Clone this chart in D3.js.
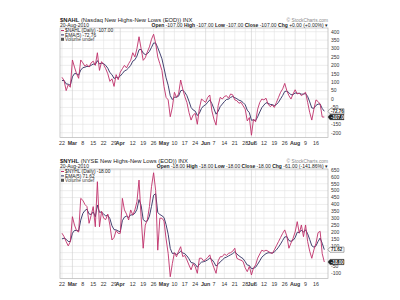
<!DOCTYPE html>
<html><head><meta charset="utf-8">
<script src="https://cdn.jsdelivr.net/npm/d3@7/dist/d3.min.js"></script>
<style>body{margin:0;background:#fff;} svg text{font-family:"Liberation Sans",Arial,sans-serif;}</style>
</head><body><svg id="c" width="400" height="300"></svg>
<script>
const dates = [
"2010-02-22","2010-02-23","2010-02-24","2010-02-25","2010-02-26",
"2010-03-01","2010-03-02","2010-03-03","2010-03-04","2010-03-05","2010-03-08","2010-03-09","2010-03-10","2010-03-11","2010-03-12",
"2010-03-15","2010-03-16","2010-03-17","2010-03-18","2010-03-19","2010-03-22","2010-03-23","2010-03-24","2010-03-25","2010-03-26",
"2010-03-29","2010-03-30","2010-03-31",
"2010-04-01","2010-04-05","2010-04-06","2010-04-07","2010-04-08","2010-04-09","2010-04-12","2010-04-13","2010-04-14","2010-04-15","2010-04-16",
"2010-04-19","2010-04-20","2010-04-21","2010-04-22","2010-04-23","2010-04-26","2010-04-27","2010-04-28","2010-04-29","2010-04-30",
"2010-05-03","2010-05-04","2010-05-05","2010-05-06","2010-05-07","2010-05-10","2010-05-11","2010-05-12","2010-05-13","2010-05-14",
"2010-05-17","2010-05-18","2010-05-19","2010-05-20","2010-05-21","2010-05-24","2010-05-25","2010-05-26","2010-05-27","2010-05-28",
"2010-06-01","2010-06-02","2010-06-03","2010-06-04","2010-06-07","2010-06-08","2010-06-09","2010-06-10","2010-06-11",
"2010-06-14","2010-06-15","2010-06-16","2010-06-17","2010-06-18","2010-06-21","2010-06-22","2010-06-23","2010-06-24","2010-06-25",
"2010-06-28","2010-06-29","2010-06-30",
"2010-07-01","2010-07-02","2010-07-06","2010-07-07","2010-07-08","2010-07-09","2010-07-12","2010-07-13","2010-07-14","2010-07-15","2010-07-16",
"2010-07-19","2010-07-20","2010-07-21","2010-07-22","2010-07-23","2010-07-26","2010-07-27","2010-07-28","2010-07-29","2010-07-30",
"2010-08-02","2010-08-03","2010-08-04","2010-08-05","2010-08-06","2010-08-09","2010-08-10","2010-08-11","2010-08-12","2010-08-13",
"2010-08-16","2010-08-17","2010-08-18","2010-08-19","2010-08-20"];

const tickDates = ["2010-02-22","2010-03-01","2010-03-08","2010-03-15","2010-03-22","2010-03-29","2010-04-01","2010-04-12","2010-04-19","2010-04-26",
"2010-05-03","2010-05-10","2010-05-17","2010-05-24","2010-06-01","2010-06-07","2010-06-14","2010-06-21","2010-06-28","2010-07-01","2010-07-06",
"2010-07-12","2010-07-19","2010-07-26","2010-08-02","2010-08-09","2010-08-16"];
const tickLabels = ["22","Mar","8","15","22","29","Apr","12","19","26","May","10","17","24","Jun","7","14","21","28","Jul","6","12","19","26","Aug","9","16"];
const monthLabels = ["Mar","Apr","May","Jun","Jul","Aug"];

const nahlDaily = [129,110,50,85,70,232,190,150,123,232,
215,195,205,190,215,225,200,275,170,222,
205,180,150,105,120,75,145,115,160,180,
200,185,210,230,275,250,300,370,300,230,
245,280,310,355,385,330,250,210,170,75,
10,-5,-105,-50,40,10,30,113,60,14,
-20,-80,-125,-95,-85,-150,-55,0,-10,-20,
10,24,-70,-120,-155,-40,10,0,15,20,
5,30,25,-5,-10,-25,-20,-40,-60,-130,
-110,-215,-120,-135,-60,-20,0,-5,5,-30,
-45,-35,-50,-20,10,40,60,93,50,20,
0,30,55,30,35,20,30,40,-20,-80,
-125,-60,-5,-15,-30,-107,-107];
const nahlEma = [110,110,90,88,82,132,151,151,142,172,
186,189,194,193,200,208,205,228,209,213,
210,200,183,157,145,122,130,125,137,151,
167,173,185,200,225,233,255,293,295,273,
264,269,283,307,333,332,305,273,239,184,
126,82,20,-3,11,11,17,49,53,40,
20,-13,-50,-65,-72,-98,-84,-56,-41,-34,
-19,-5,-27,-58,-90,-73,-45,-30,-15,-3,
0,10,15,8,2,-7,-11,-21,-34,-66,
-81,-126,-124,-128,-105,-77,-51,-36,-22,-25,
-32,-33,-39,-33,-19,1,21,45,47,38,
25,27,36,34,34,29,29,33,15,-17,
-53,-55,-38,-30,-30,-56,-72.76];
const nyhlDaily = [191,166,130,99,130,311,250,210,200,444,
430,400,384,263,320,384,238,565,238,350,
300,290,330,250,142,160,210,190,190,444,
360,330,287,360,323,360,420,577,311,82,
250,287,384,529,630,500,68,300,300,280,
150,45,-125,-30,50,20,60,93,21,30,
-3,-40,-75,-30,-52,-100,9,10,-10,0,
15,34,-20,-60,-100,-10,20,21,40,30,
45,50,60,82,9,0,-5,-15,-60,-88,
-50,-112,-60,-40,10,40,68,60,68,60,
50,44,70,100,130,160,190,215,170,82,
120,154,200,275,191,251,166,251,130,60,
9,70,118,195,205,43,-18];
const nyhlEma = [150,155,147,131,131,191,211,211,207,286,
334,356,365,331,327,346,310,395,343,345,
330,317,321,297,245,217,215,207,201,282,
308,315,306,324,324,336,364,435,394,290,
277,280,315,386,467,478,341,327,318,305,
253,184,81,44,46,37,45,61,48,42,
27,5,-22,-25,-34,-56,-34,-19,-16,-11,
-2,10,0,-20,-47,-35,-17,-4,11,17,
26,34,43,56,40,27,16,6,-16,-40,
-43,-66,-64,-56,-34,-9,17,31,43,49,
49,47,55,70,90,113,139,164,166,138,
132,139,159,198,196,214,198,216,187,145,
100,90,99,131,156,118,71.62];

const nahlTicks = [400,350,300,250,200,150,100,50,0,-50,-100,-150,-200];
const nyhlTicks = [650,600,550,500,450,400,350,300,250,200,150,100,50,0,-50,-100];

const panels = [
 {sym:"$NAHL", name:" (Nasdaq New Highs-New Lows (EOD)) INX", daily:nahlDaily, ema:nahlEma, ticks:nahlTicks,
  dom:[-200,400], rng:[132.7,31.7], top:28, bottom:137.5, off:0,
  ohlc:[["Open"," -107.00 "],["High"," -107.00 "],["Low"," -107.00 "],["Close"," -107.00 "],["Chg"," +0.00 (+0.00%) \u25BE"]],
  dLabel:"-107.00", eLabel:"-72.76"},
 {sym:"$NYHL", name:" (NYSE New Highs-New Lows (EOD)) INX", daily:nyhlDaily, ema:nyhlEma, ticks:nyhlTicks,
  dom:[-100,650], rng:[273.3,170], top:169, bottom:278.5, off:141,
  ohlc:[["Open"," -18.00 "],["High"," -18.00 "],["Low"," -18.00 "],["Close"," -18.00 "],["Chg"," -61.00 (-141.86%) \u25BE"]],
  dLabel:"-18.00", eLabel:"71.62"}
];

const svg = d3.select("#c");
const x = d3.scalePoint().domain(dates).range([62, 324.3]);
const L = 60, R = 328;
const dailyColor = "#c0306a", emaColor = "#2c2c60";

panels.forEach(p => {
  const y = d3.scaleLinear().domain(p.dom).range(p.rng);
  const g = svg.append("g");
  const lastE = p.ema[p.ema.length-1], lastD = p.daily[p.daily.length-1];
  const boxYs = [y(lastE), y(lastD)];
  // grid
  g.selectAll(".hg").data(p.ticks).join("line")
    .attr("x1", L).attr("x2", R).attr("y1", d=>y(d)).attr("y2", d=>y(d))
    .attr("stroke", "#e2e2e2").attr("stroke-width", 0.6);
  g.selectAll(".vg").data(tickDates).join("line")
    .attr("x1", d=>x(d)).attr("x2", d=>x(d)).attr("y1", p.top).attr("y2", p.bottom)
    .attr("stroke", (d,i)=>monthLabels.includes(tickLabels[i]) ? "#cfcfcf" : "#e2e2e2").attr("stroke-width", 0.6);
  g.append("rect").attr("x", L).attr("y", p.top).attr("width", R-L).attr("height", p.bottom-p.top)
    .attr("fill","none").attr("stroke","#b5b5b5").attr("stroke-width",0.7);
  // right axis labels (those hidden behind the value boxes are skipped)
  g.selectAll(".yl").data(p.ticks.filter(d => boxYs.every(b => Math.abs(y(d)-b) >= 3.45))).join("text")
    .attr("x", 331).attr("y", d=>y(d)+1.8).attr("font-size", 5).attr("fill","#333").text(d=>d);
  // x labels
  g.selectAll(".xl").data(tickDates).join("text")
    .attr("x", d=>x(d)).attr("y", p.bottom+7).attr("text-anchor","middle").attr("font-size",5.3)
    .attr("font-weight",(d,i)=>monthLabels.includes(tickLabels[i])?"bold":"normal").attr("fill","#333")
    .text((d,i)=>tickLabels[i]);
  // lines
  const line = d3.line().x((d,i)=>x(dates[i])).y(d=>y(d));
  g.append("path").datum(p.ema).attr("d", line).attr("fill","none").attr("stroke",emaColor).attr("stroke-width",0.9);
  g.append("path").datum(p.daily).attr("d", line).attr("fill","none").attr("stroke",dailyColor).attr("stroke-width",0.9);
  // header
  const o = p.off;
  const t = g.append("text").attr("x", 60).attr("y", 22+o).attr("font-size", 5.8).attr("fill","#222");
  t.append("tspan").attr("font-weight","bold").text(p.sym);
  t.append("tspan").text(p.name);
  g.append("text").attr("x", 328).attr("y", 21.5+o).attr("text-anchor","end").attr("font-size",4.8).attr("fill","#888").text("\u00A9 StockCharts.com");
  g.append("text").attr("x", 60).attr("y", 27.3+o).attr("font-size", 5).attr("fill","#222").text("20-Aug-2010");
  const oh = g.append("text").attr("x", 328).attr("y", 27.3+o).attr("text-anchor","end").attr("font-size",5).attr("fill","#222");
  p.ohlc.forEach(([k,v]) => { oh.append("tspan").attr("font-weight","bold").text(k); oh.append("tspan").text(v); });
  // legend
  const lg = [[dailyColor, p.sym+" (Daily) "+p.dLabel],[emaColor,"EMA(5) "+p.eLabel]];
  lg.forEach(([c,txt],k) => {
    const yy = 30.5 + k*4.4 + o;
    g.append("line").attr("x1",61).attr("x2",64).attr("y1",yy).attr("y2",yy).attr("stroke",c).attr("stroke-width",1);
    g.append("text").attr("x",65).attr("y",yy+1.7).attr("font-size",4.8).attr("fill","#222").text(txt);
  });
  const vy = 39.3 + o;
  g.append("rect").attr("x",61).attr("y",vy-1.5).attr("width",3).attr("height",3).attr("fill","#555");
  g.append("text").attr("x",65).attr("y",vy+1.7).attr("font-size",4.8).attr("fill","#444").text("Volume undef");
  // value boxes
  [[lastE, p.eLabel, "#fff", "#222", "#555"], [lastD, p.dLabel, "#222", "#fff", "#222"]].forEach(([v,lab,fill,tc,st]) => {
    const yy = y(v);
    g.append("path").attr("d", `M${R},${yy} L${R+2},${yy-2.6} L${R+16},${yy-2.6} L${R+16},${yy+2.6} L${R+2},${yy+2.6} Z`)
      .attr("fill", fill).attr("stroke", st).attr("stroke-width", 0.5);
    g.append("text").attr("x", R+3).attr("y", yy+1.6).attr("font-size",4.5).attr("font-weight","bold").attr("fill",tc).text(lab);
  });
});
</script></body></html>
